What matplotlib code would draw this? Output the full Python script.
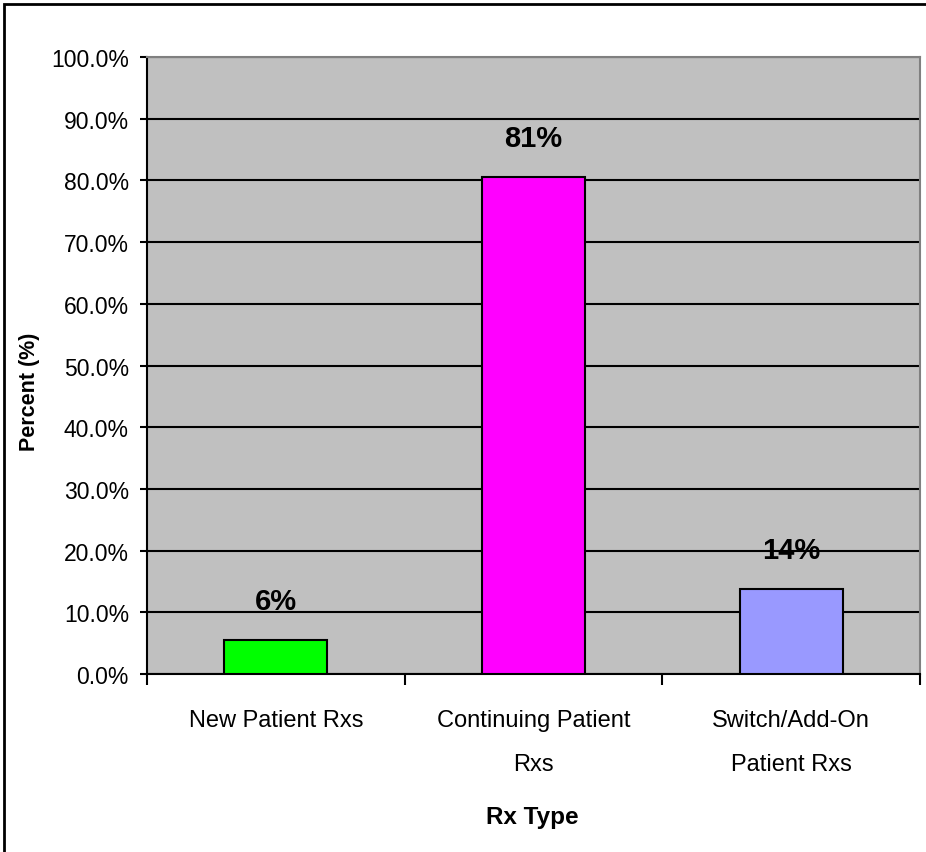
import matplotlib.pyplot as plt
from matplotlib.patches import Rectangle

categories = ['New Patient Rxs', 'Continuing Patient\nRxs', 'Switch/Add-On\nPatient Rxs']
values = [5.5, 80.5, 13.8]
labels = ['6%', '81%', '14%']
colors = ['#00FF00', '#FF00FF', '#9999FF']

plt.rcParams['font.family'] = ['Liberation Sans', 'DejaVu Sans']

W, H = 926, 853
fig = plt.figure(figsize=(W / 100, H / 100), dpi=100)
ax = fig.add_axes([147 / W, 1 - 675 / H, (920 - 147) / W, (675 - 58) / H])
ax.set_facecolor('#C0C0C0')

x = range(len(categories))
ax.bar(x, values, width=0.4, color=colors, edgecolor='black', linewidth=1.5, zorder=3)
for xi, v, lab in zip(x, values, labels):
    ax.text(xi, v + 6.3, lab, ha='center', va='center', fontsize=21, fontweight='bold', zorder=4)

ax.set_xlim(-0.5, 2.5)
ax.set_ylim(0, 100)
ax.set_yticks(range(0, 101, 10))
ax.set_yticklabels(['%.1f%%' % t for t in range(0, 101, 10)], fontsize=16.5)
ax.yaxis.grid(True, color='black', linewidth=1.5, zorder=1)
ax.set_axisbelow(True)

ax.set_xticks([-0.5, 0.5, 1.5, 2.5])
ax.set_xticklabels([])
ax.set_xticks([0, 1, 2], minor=True)
ax.set_xticklabels(categories, minor=True, fontsize=17, linespacing=2.3)
ax.tick_params(axis='x', which='minor', length=0, pad=25)
ax.tick_params(axis='x', which='major', length=8, width=1.5)
ax.tick_params(axis='y', length=5, width=1.5, pad=8)

ax.spines['left'].set_linewidth(1.5)
ax.spines['bottom'].set_linewidth(1.5)
ax.spines['top'].set_color('#808080')
ax.spines['top'].set_linewidth(1.5)
ax.spines['right'].set_color('#808080')
ax.spines['right'].set_linewidth(1.5)

fig.text(30 / W, 1 - 392 / H, 'Percent (%)', rotation=90, ha='center', va='center',
         fontsize=15.5, fontweight='bold')
fig.text(532 / W, 1 - 818 / H, 'Rx Type', ha='center', va='center',
         fontsize=17.5, fontweight='bold')

fig.patches.append(Rectangle((4 / W, -0.1), 1.2, 1 - 5 / H + 0.1, transform=fig.transFigure,
                             fill=False, edgecolor='black', linewidth=2))

fig.savefig('out.png', dpi=100)
